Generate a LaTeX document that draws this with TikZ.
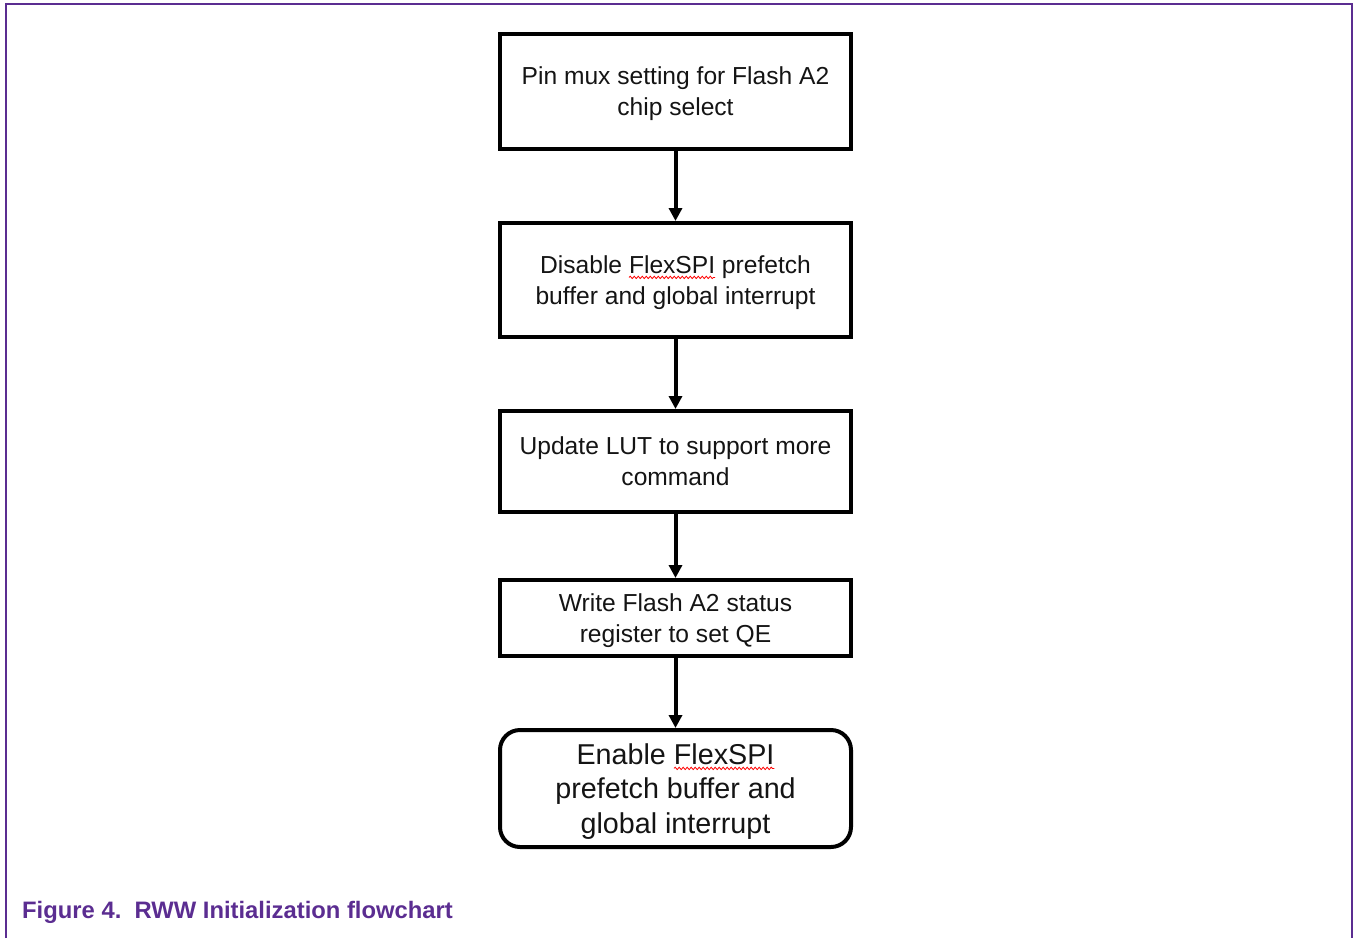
\documentclass[tikz,border=0pt]{standalone}
\usepackage{fontspec}
\setmainfont{Liberation Sans}
\usetikzlibrary{arrows.meta,decorations.pathmorphing}
\definecolor{nxppurple}{RGB}{91,45,145}
\definecolor{ink}{RGB}{20,20,20}
\newcommand\redwave[1]{\tikz[baseline=(w.base), x=1pt, y=1pt, sharp corners]{%
  \node[inner sep=0pt, outer sep=0pt, minimum width=0pt, minimum height=0pt,
        text depth=, draw=none, sharp corners, text=ink] (w) {#1};%
  \draw[overlay, sharp corners, red, line width=0.8pt, decorate,
        decoration={snake, amplitude=1.2pt, segment length=4pt}]
   ([yshift=-4pt]w.base west) -- ([yshift=-4pt]w.base east);}}
\begin{document}
\begin{tikzpicture}[x=1pt,y=-1pt,
  stepbox/.style={draw=black, line width=4pt, minimum width=351pt, inner sep=0pt,
    align=center, text=ink, text depth=0pt, font=\fontsize{24.6}{31}\selectfont},
  bigbox/.style={stepbox, rounded corners=20pt, font=\fontsize{28.7}{34.5}\selectfont},
  flow/.style={draw=black, line width=4pt, -{Triangle[length=13pt,width=13pt]}},
  caption/.style={anchor=base west, inner sep=0pt, text=nxppurple,
    font=\fontsize{23.8}{28}\selectfont\bfseries}]
\useasboundingbox (0,0) rectangle (1353,938);
\draw[nxppurple, line width=2.5pt] (6,938) -- (6,4) -- (1352,4) -- (1352,938);

\node[stepbox, minimum height=115pt] (b1) at (675.5,91.5)
  {Pin mux setting for Flash A2\\chip select};
\node[stepbox, minimum height=114pt] (b2) at (675.5,280)
  {Disable \redwave{FlexSPI} prefetch\\buffer and global interrupt};
\node[stepbox, minimum height=101pt] (b3) at (675.5,461.5)
  {Update LUT to support more\\command};
\node[stepbox, minimum height=76pt] (b4) at (675.5,618)
  {Write Flash A2 status\\register to set QE};
\node[bigbox, minimum height=117pt] (b5) at (675.5,788.5)
  {Enable \redwave{FlexSPI}\\prefetch buffer and\\global interrupt};

\draw[flow] (b1.south) -- (b2.north);
\draw[flow] (b2.south) -- (b3.north);
\draw[flow] (b3.south) -- (b4.north);
\draw[flow] (b4.south) -- (b5.north);

\node[caption] (cap) at (22,918) {Figure 4.\ \ RWW Initialization flowchart};
\end{tikzpicture}
\end{document}
